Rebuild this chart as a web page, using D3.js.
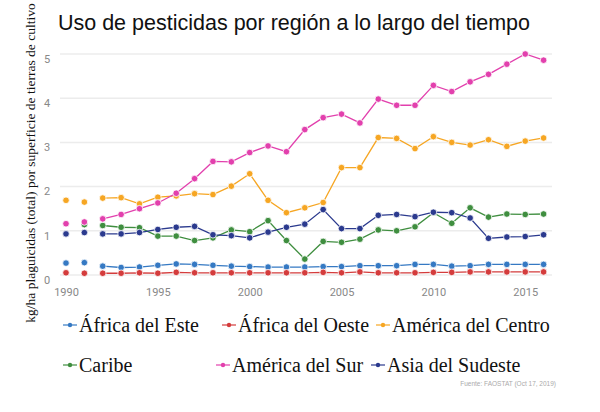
<!DOCTYPE html>
<html>
<head>
<meta charset="utf-8">
<script src="https://cdn.jsdelivr.net/npm/d3@7"></script>
<style>
  body { margin: 0; background: #fff; }
  svg { display: block; }
</style>
</head>
<body>
<svg id="chart" width="600" height="412"></svg>
<script>
const years = d3.range(1990, 2017);
const yTicks = [0, 1, 2, 3, 4, 5];
const xTicks = [1990, 1995, 2000, 2005, 2010, 2015];
const lineStart = 1992; // the first two years are loose points

const regions = ["África del Este", "África del Oeste", "América del Centro", "Caribe", "América del Sur", "Asia del Sudeste"];
const colors = ["#3579c3", "#d43c3c", "#f6a623", "#3f8e3f", "#e240ad", "#2b3a8e"];

const africaEste = [0.27, 0.28, 0.20, 0.17, 0.18, 0.22, 0.25, 0.24, 0.22, 0.20, 0.19, 0.18, 0.18, 0.18,
    0.19, 0.19, 0.21, 0.21, 0.21, 0.24, 0.24, 0.20, 0.21, 0.24, 0.24, 0.24, 0.24];
const africaOeste = [0.05, 0.04, 0.04, 0.04, 0.05, 0.04, 0.06, 0.05, 0.05, 0.05, 0.05, 0.05, 0.05, 0.05,
    0.06, 0.05, 0.07, 0.05, 0.05, 0.05, 0.06, 0.06, 0.07, 0.07, 0.07, 0.07, 0.07];
const americaCentro = [1.69, 1.65, 1.74, 1.75, 1.61, 1.76, 1.79, 1.84, 1.82, 2.01, 2.29, 1.69, 1.41, 1.52,
    1.64, 2.43, 2.43, 3.11, 3.09, 2.86, 3.13, 3.00, 2.94, 3.06, 2.91, 3.03, 3.10];
const caribe = [null, 1.14, 1.12, 1.08, 1.07, 0.88, 0.88, 0.78, 0.84, 1.02, 0.98, 1.23, 0.78, 0.36,
    0.76, 0.74, 0.81, 1.02, 1.00, 1.09, 1.41, 1.17, 1.52, 1.31, 1.38, 1.37, 1.38];
const americaSur = [1.16, 1.20, 1.27, 1.37, 1.50, 1.63, 1.85, 2.18, 2.57, 2.56, 2.77, 2.92, 2.79, 3.29,
    3.56, 3.64, 3.44, 3.98, 3.84, 3.84, 4.29, 4.15, 4.37, 4.54, 4.77, 5.00, 4.86];
const asiaSudeste = [0.93, 0.96, 0.93, 0.93, 0.96, 1.03, 1.08, 1.10, 0.91, 0.89, 0.84, 0.97, 1.08, 1.15,
    1.48, 1.05, 1.05, 1.35, 1.37, 1.32, 1.42, 1.41, 1.29, 0.83, 0.86, 0.87, 0.91];

const values = [africaEste, africaOeste, americaCentro, caribe, americaSur, asiaSudeste];

const svg = d3.select("#chart");

const x = d3.scaleLinear().domain([1990, 2016]).range([66, 543.6]);
const y = d3.scaleLinear().domain([0, 5]).range([275, 54]);

// title
svg.append("text")
    .attr("x", 294).attr("y", 30)
    .attr("text-anchor", "middle")
    .style("font-family", "'Liberation Sans', Arial, sans-serif")
    .style("font-size", "21.5px")
    .style("fill", "#111")
    .text("Uso de pesticidas por región a lo largo del tiempo");

// grid
svg.append("g").selectAll("line")
    .data(yTicks)
    .join("line")
    .attr("x1", 60).attr("x2", 552)
    .attr("y1", d => y(d)).attr("y2", d => y(d))
    .attr("stroke", "#ececec")
    .attr("stroke-width", 1.5);

// y axis labels
const yAxis = svg.append("g")
    .attr("transform", "translate(47,0)")
    .call(d3.axisLeft(y).tickValues(yTicks).tickFormat(d3.format("d")).tickSize(0).tickPadding(0));
yAxis.select(".domain").remove();
yAxis.selectAll("text")
    .attr("text-anchor", "middle")
    .attr("dy", "0.75em")
    .style("font-family", "Roboto, sans-serif")
    .style("font-size", "11px")
    .style("fill", "#888");

// x axis labels
const xAxis = svg.append("g")
    .attr("transform", "translate(0,288)")
    .call(d3.axisBottom(x).tickValues(xTicks).tickFormat(d3.format("d")).tickSize(0).tickPadding(0));
xAxis.select(".domain").remove();
xAxis.selectAll("text")
    .style("font-family", "Roboto, sans-serif")
    .style("font-size", "11px")
    .style("fill", "#888");

// y axis title
svg.append("text")
    .attr("transform", "translate(35,163) rotate(-90)")
    .attr("text-anchor", "middle")
    .style("font-family", "'Liberation Serif', 'Times New Roman', serif")
    .style("font-size", "13.5px")
    .style("fill", "#111")
    .text("kg/ha plaguicidas (total) por superficie de tierras de cultivo");

// series
const line = d3.line()
    .defined(d => d.v != null)
    .x(d => x(d.year))
    .y(d => y(d.v));

const series = regions.map((name, i) => ({
    name,
    color: colors[i],
    points: years.map((year, j) => ({ year, v: values[i][j] }))
}));

const drawOrder = [0, 1, 3, 5, 2, 4];
drawOrder.forEach(i => {
    const s = series[i];
    const g = svg.append("g");
    g.append("path")
        .datum(s.points.filter(p => p.year >= lineStart))
        .attr("d", line)
        .attr("fill", "none")
        .attr("stroke", s.color)
        .attr("stroke-width", 1.3);
    g.selectAll("circle")
        .data(s.points.filter(p => p.v != null))
        .join("circle")
        .attr("cx", d => x(d.year))
        .attr("cy", d => y(d.v))
        .attr("r", 3.3)
        .attr("fill", s.color)
        .attr("stroke", "#fff")
        .attr("stroke-width", 0.8);
});

// legend
const legendPos = [[63, 325], [222, 325], [376, 325], [63, 365], [216, 365], [371, 365]];
const legend = svg.append("g");
series.forEach((s, i) => {
    const [lx, ly] = legendPos[i];
    const item = legend.append("g").attr("transform", `translate(${lx},${ly})`);
    item.append("line").attr("x1", 0).attr("x2", 14).attr("y1", 0).attr("y2", 0)
        .attr("stroke", s.color).attr("stroke-width", 1.2);
    item.append("circle").attr("cx", 7).attr("cy", 0).attr("r", 2.2).attr("fill", s.color);
    item.append("text")
        .attr("x", 16).attr("y", 0).attr("dy", "0.35em")
        .style("font-family", "'Liberation Serif', 'Times New Roman', serif")
        .style("font-size", "20px")
        .style("fill", "#111")
        .text(s.name);
});

// source
svg.append("text")
    .attr("x", 556).attr("y", 386)
    .attr("text-anchor", "end")
    .style("font-family", "'Liberation Sans', Arial, sans-serif")
    .style("font-size", "6.5px")
    .style("fill", "#aaa")
    .text("Fuente: FAOSTAT (Oct 17, 2019)");
</script>
</body>
</html>
